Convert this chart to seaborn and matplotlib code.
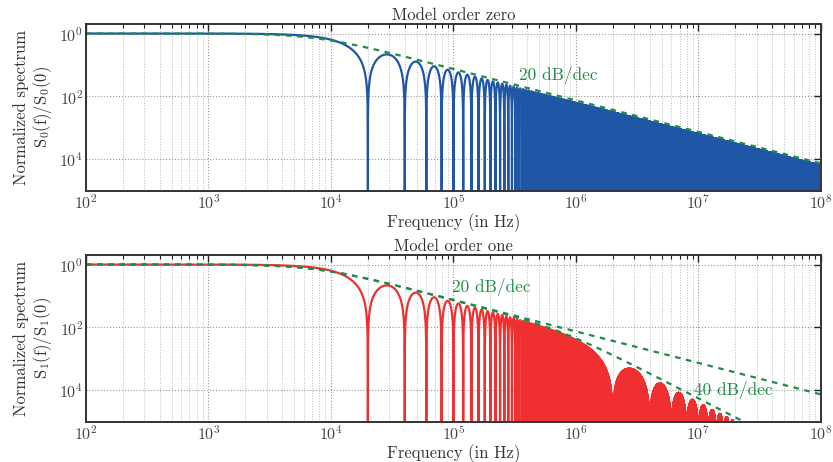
import numpy as np
import pandas as pd
import seaborn as sns
import matplotlib
matplotlib.use("Agg")
import matplotlib.pyplot as plt
from matplotlib.ticker import LogLocator, FuncFormatter, NullFormatter

# Model parameters
first_zero_hz = 2e4        # main lobe zeros at 2e4, 4e4, ...
second_zero_hz = 2e6       # order one: extra zeros at 2e6, 4e6, ...
corner1_hz = 7.5e3         # 20 dB/dec asymptote corner
corner2_hz = 7.5e5         # 40 dB/dec asymptote corner
f_min, f_max = 1e2, 1e8
y_min, y_max = 1e-5, 2.0

titles = ["Model order zero", "Model order one"]
ylabels = ["Normalized spectrum\n$\\mathrm{S_0(f)/S_0(0)}$",
           "Normalized spectrum\n$\\mathrm{S_1(f)/S_1(0)}$"]
x_ticks = [1e2, 1e3, 1e4, 1e5, 1e6, 1e7, 1e8]
y_ticks = [1e0, 1e-2, 1e-4]
# labels as they appear in the reference (minus signs not shown)
y_tick_labels = ["$10^{0}$", "$10^{2}$", "$10^{4}$"]
notes = [[("20 dB/dec", 7.2e5, 10**-1.32)],
         [("20 dB/dec", 2.04e5, 10**-0.70), ("40 dB/dec", 1.93e7, 10**-3.97)]]

blue = "#1f57a6"
red = "#f03030"
green = "#1e8c46"

# frequency grid: log spaced plus every lobe zero, so each lobe reaches the floor
f = np.unique(np.concatenate([
    np.logspace(2, 8, 200000),
    np.arange(1, int(f_max / first_zero_hz) + 1) * first_zero_hz,
    np.arange(1, int(f_max / first_zero_hz)) * first_zero_hz + first_zero_hz / 2,
]))
s0 = np.clip(np.abs(np.sinc(f / first_zero_hz)), 1e-12, None)
s1 = np.clip(np.abs(np.sinc(f / first_zero_hz) * np.sinc(f / second_zero_hz)), 1e-12, None)

fa = np.logspace(2, 8, 600)
asym1 = 1 / np.sqrt(1 + (fa / corner1_hz) ** 2)
asym2 = asym1 / np.sqrt(1 + (fa / corner2_hz) ** 2)

df0 = pd.DataFrame({"f": f, "s": s0})
df1 = pd.DataFrame({"f": f, "s": s1})

sns.set_style("white")
plt.rcParams["font.family"] = ["cmr10", "DejaVu Serif"]
plt.rcParams["mathtext.fontset"] = "cm"
plt.rcParams["axes.formatter.use_mathtext"] = True

fig = plt.figure(figsize=(8.33, 4.62), dpi=100)
ax0 = fig.add_axes([0.1032, 0.5866, 0.8824, 0.3614])
ax1 = fig.add_axes([0.1032, 0.0866, 0.8824, 0.3614])

for i, (ax, d, col) in enumerate([(ax0, df0, blue), (ax1, df1, red)]):
    ax.set_xscale("log")
    ax.set_yscale("log")
    sns.lineplot(data=d, x="f", y="s", ax=ax, color=col, lw=1.6,
                 estimator=None, sort=False)
    ax.plot(fa, asym1, ls=(0, (2.5, 2.5)), color=green, lw=1.6)
    if i == 1:
        ax.plot(fa, asym2, ls=(0, (2.5, 2.5)), color=green, lw=1.6)
    for txt, xx, yy in notes[i]:
        ax.text(xx, yy, txt, color=green, fontsize=12.5, ha="center", va="center")

    ax.set_xlim(f_min, f_max)
    ax.set_ylim(y_min, y_max)
    ax.xaxis.set_major_locator(LogLocator(base=10, numticks=20))
    ax.xaxis.set_minor_locator(LogLocator(base=10, subs=np.arange(2, 10), numticks=20))
    ax.xaxis.set_minor_formatter(NullFormatter())
    ax.set_yticks(y_ticks)
    ax.set_yticklabels(y_tick_labels)
    ax.yaxis.set_minor_locator(plt.NullLocator())
    ax.set_xticks(x_ticks)
    ax.xaxis.set_major_formatter(FuncFormatter(lambda v, p: "$10^{%d}$" % round(np.log10(v))))

    ax.grid(True, which="major", axis="both", ls=":", color="#999999", lw=0.8)
    ax.grid(True, which="minor", axis="x", ls=":", color="#bbbbbb", lw=0.7)
    ax.tick_params(which="both", direction="in", top=True, right=True,
                   labelsize=11.5, labelcolor="#444444", color="#222222", pad=2)
    ax.tick_params(which="major", length=5, width=1.0)
    ax.tick_params(which="minor", length=3, width=0.8)
    for sp in ax.spines.values():
        sp.set_color("#333333")
        sp.set_linewidth(1.4)

    ax.set_title(titles[i], fontsize=12, color="#333333", pad=3)
    ax.set_xlabel("Frequency (in Hz)", fontsize=12, color="#333333", labelpad=0.5)
    ax.set_ylabel(ylabels[i], fontsize=12, color="#333333", labelpad=4,
                  linespacing=1.1)

fig.savefig("out.png", dpi=100)
